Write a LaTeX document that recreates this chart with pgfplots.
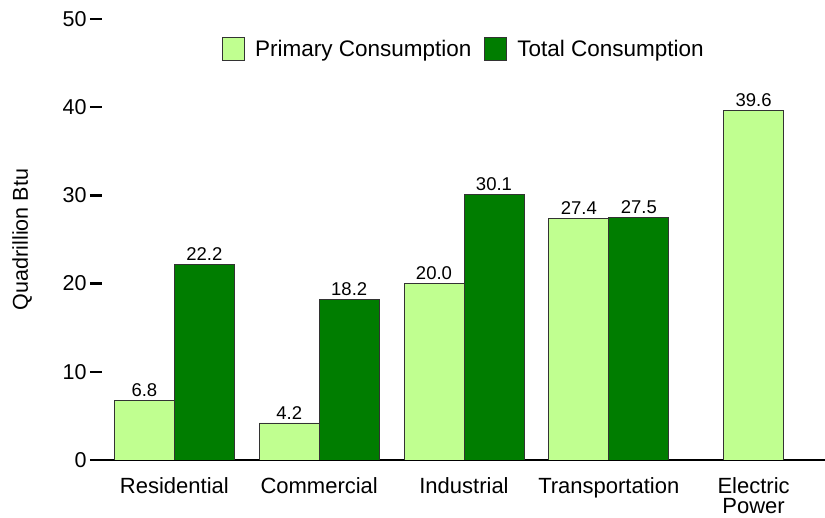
\documentclass[border=0pt]{standalone}
\usepackage{fontspec}
\setmainfont{Liberation Sans}
\usepackage{pgfplots}
\pgfplotsset{compat=1.18}
\definecolor{lightg}{RGB}{192,255,144}
\definecolor{darkg}{RGB}{0,125,0}
\begin{document}
\begin{tikzpicture}
\begin{axis}[
  scale only axis, width=724pt, height=441pt,
  xmin=-0.5, xmax=4.5, ymin=0, ymax=50,
  ybar, bar width=60pt,
  axis x line=bottom, axis y line=left,
  axis line style={-, line width=2.5pt, black},
  y axis line style={draw=none},
  ytick={0,10,20,30,40,50},
  tick align=outside, major tick length=12pt,
  ytick style={line width=2.5pt, black},
  xtick={0,1,2,3,4},
  xticklabels={Residential,Commercial,Industrial,Transportation,{Electric\\Power}},
  xtick style={draw=none},
  xticklabel style={align=center, font=\fontsize{22}{20.5}\selectfont, yshift=-2pt},
  yticklabel style={font=\fontsize{21.5}{24}\selectfont},
  /pgf/number format/assume math mode=true,
  ylabel={Quadrillion Btu},
  ylabel style={font=\fontsize{21.5}{24}\selectfont, at={(axis description cs:-0.1105,0.5)}, anchor=center},
  nodes near coords={\pgfmathprintnumber[fixed,fixed zerofill,precision=1]{\pgfplotspointmeta}},
  every node near coord/.append style={font=\fontsize{18.5}{20}\selectfont, black},
  legend columns=2,
  legend style={draw=none, fill=none, at={(axis cs:2,46.6)}, anchor=center,
    font=\fontsize{22.5}{25}\selectfont,
    /tikz/every even column/.append style={column sep=11pt}},
  legend image code/.code={\draw[#1] (0pt,-11.5pt) rectangle (22pt,11.5pt); \path (30pt,0pt);},
]
\addplot[fill=lightg, draw=black!80, line width=0.8pt, bar shift=-30pt]
  coordinates {(0,6.8) (1,4.2) (2,20.0) (3,27.4)};
\addplot[fill=darkg, draw=black!80, line width=0.8pt, bar shift=30pt]
  coordinates {(0,22.2) (1,18.2) (2,30.1) (3,27.5)};
\addplot[fill=lightg, draw=black!80, line width=0.8pt, bar shift=0pt, forget plot]
  coordinates {(4,39.6)};
\legend{Primary Consumption, Total Consumption}
\end{axis}
\pgfresetboundingbox
\path[use as bounding box] (-102pt,-58pt) rectangle (723pt,460pt);
\end{tikzpicture}
\end{document}
